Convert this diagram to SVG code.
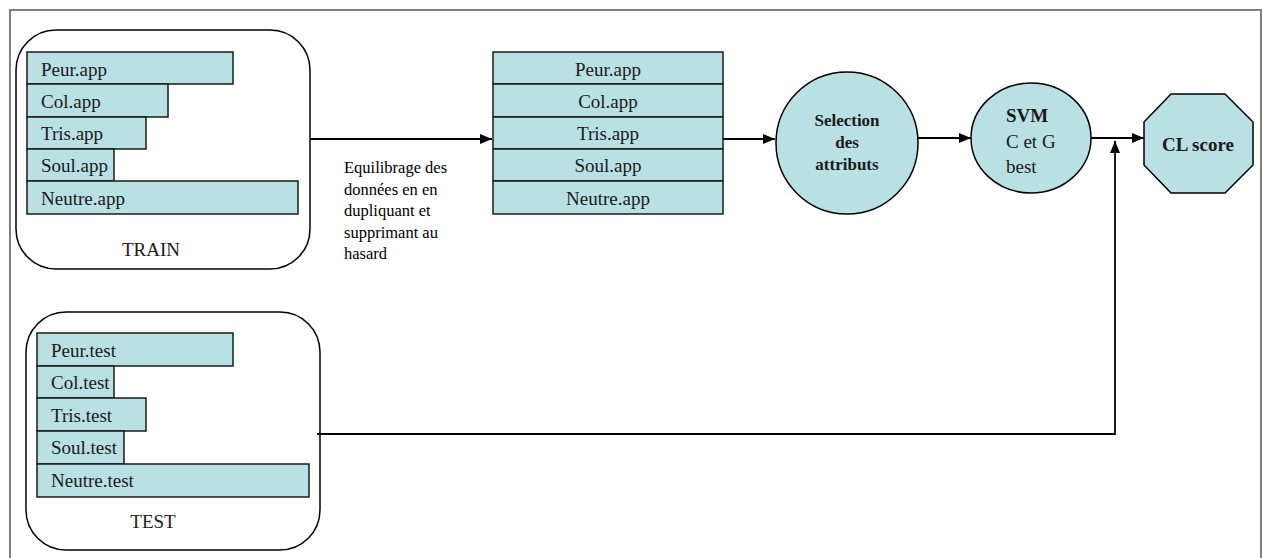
<svg xmlns="http://www.w3.org/2000/svg" width="1262" height="558" viewBox="0 0 1262 558">
<defs>
<marker id="ah" markerWidth="12" markerHeight="10" refX="12" refY="5" orient="auto" markerUnits="userSpaceOnUse">
<path d="M0,0 L12,5 L0,10 Z" fill="#000"/>
</marker>
<style>
.bar{fill:#b9e0e3;stroke:#1a1a1a;stroke-width:1.5}
.box{fill:#fff;stroke:#000;stroke-width:1.5}
.shape{fill:#b9e0e3;stroke:#000;stroke-width:1.5}
.t{font-family:"Liberation Serif",serif;font-size:19px;fill:#1a1a1a}
.tb{font-family:"Liberation Serif",serif;font-size:17px;font-weight:bold;fill:#1a1a1a}
.lbl{font-family:"Liberation Serif",serif;font-size:16.5px;fill:#000}
.c{stroke:#000;stroke-width:1.8;fill:none}
</style>
</defs>
<rect x="10" y="10" width="1251" height="560" fill="#fff" stroke="#808080" stroke-width="2"/>
<g id="train">
<rect class="box" x="16" y="30" width="294" height="239" rx="40" ry="40"/>
<rect class="bar" x="27" y="52" width="206" height="32"/>
<rect class="bar" x="27" y="84" width="141" height="33"/>
<rect class="bar" x="27" y="117" width="119" height="32"/>
<rect class="bar" x="27" y="149" width="87" height="32"/>
<rect class="bar" x="27" y="181" width="271" height="33"/>
<text class="t" x="41" y="76">Peur.app</text>
<text class="t" x="41" y="108">Col.app</text>
<text class="t" x="41" y="140">Tris.app</text>
<text class="t" x="41" y="172">Soul.app</text>
<text class="t" x="41" y="205">Neutre.app</text>
<text class="t" x="151" y="256" text-anchor="middle" font-size="20">TRAIN</text>
</g>
<g id="test">
<rect class="box" x="26" y="312" width="294" height="238" rx="40" ry="40"/>
<rect class="bar" x="37" y="333" width="196" height="33"/>
<rect class="bar" x="37" y="366" width="77" height="32"/>
<rect class="bar" x="37" y="398" width="109" height="33"/>
<rect class="bar" x="37" y="431" width="87" height="33"/>
<rect class="bar" x="37" y="464" width="272" height="33"/>
<text class="t" x="51" y="357">Peur.test</text>
<text class="t" x="51" y="389">Col.test</text>
<text class="t" x="51" y="422">Tris.test</text>
<text class="t" x="51" y="454">Soul.test</text>
<text class="t" x="51" y="487">Neutre.test</text>
<text class="t" x="153" y="528" text-anchor="middle" font-size="20">TEST</text>
</g>
<g id="balanced">
<rect class="bar" x="493" y="52" width="230" height="32"/>
<rect class="bar" x="493" y="84" width="230" height="33"/>
<rect class="bar" x="493" y="117" width="230" height="32"/>
<rect class="bar" x="493" y="149" width="230" height="32"/>
<rect class="bar" x="493" y="181" width="230" height="33"/>
<text class="t" x="608" y="76" text-anchor="middle">Peur.app</text>
<text class="t" x="608" y="108" text-anchor="middle">Col.app</text>
<text class="t" x="608" y="140" text-anchor="middle">Tris.app</text>
<text class="t" x="608" y="172" text-anchor="middle">Soul.app</text>
<text class="t" x="608" y="205" text-anchor="middle">Neutre.app</text>
</g>
<g id="selection">
<circle class="shape" cx="847" cy="143" r="71"/>
<text class="tb" x="847" y="126" text-anchor="middle">Selection</text>
<text class="tb" x="847" y="148" text-anchor="middle">des</text>
<text class="tb" x="847" y="170" text-anchor="middle">attributs</text>
</g>
<g id="svm">
<ellipse class="shape" cx="1031" cy="138" rx="60" ry="55"/>
<text class="t" x="1006" y="122" font-weight="bold">SVM</text>
<text class="t" x="1006" y="148">C et G</text>
<text class="t" x="1006" y="173">best</text>
</g>
<g id="clscore">
<polygon class="shape" points="1171,94 1225,94 1253,122 1253,165 1225,193 1171,193 1144,165 1144,122"/>
<text class="t" x="1198" y="151" text-anchor="middle" font-weight="bold">CL score</text>
</g>
<g id="label">
<text class="lbl" x="344" y="173">Equilibrage des</text>
<text class="lbl" x="344" y="195">données en en</text>
<text class="lbl" x="344" y="216">dupliquant et</text>
<text class="lbl" x="344" y="238">supprimant au</text>
<text class="lbl" x="344" y="259">hasard</text>
</g>
<g id="connectors">
<line class="c" x1="310" y1="139" x2="492" y2="139" marker-end="url(#ah)"/>
<line class="c" x1="723" y1="139" x2="775" y2="139" marker-end="url(#ah)"/>
<line class="c" x1="918" y1="138" x2="971" y2="138" marker-end="url(#ah)"/>
<line class="c" x1="1091" y1="138" x2="1144" y2="138" marker-end="url(#ah)"/>
<polyline class="c" points="317,434 1115,434 1115,141" marker-end="url(#ah)"/>
</g>
</svg>
